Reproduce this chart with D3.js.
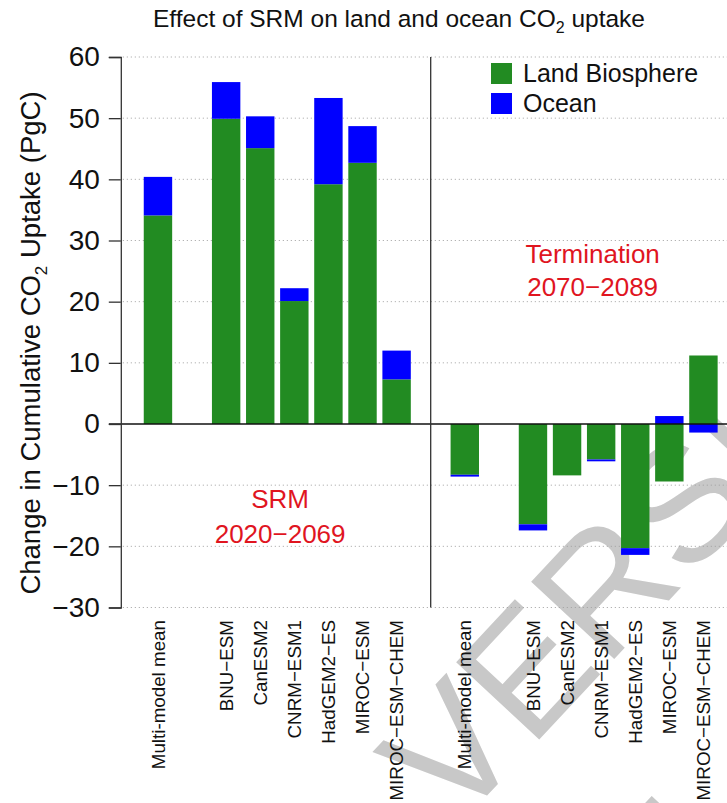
<!DOCTYPE html>
<html>
<head>
<meta charset="utf-8">
<script src="https://cdn.jsdelivr.net/npm/d3@7"></script>
<style>
  html, body { margin: 0; padding: 0; background: #fff; }
  svg { display: block; font-family: "Liberation Sans", Arial, Helvetica, sans-serif; }
</style>
</head>
<body>
<svg id="chart" width="727" height="803"></svg>
<script>
// ---- data ----
const categories = [
  "Multi-model mean", "", "BNU\u2212ESM", "CanESM2", "CNRM\u2212ESM1", "HadGEM2\u2212ES", "MIROC\u2212ESM", "MIROC\u2212ESM\u2212CHEM",
  "",
  "Multi-model mean", "", "BNU\u2212ESM", "CanESM2", "CNRM\u2212ESM1", "HadGEM2\u2212ES", "MIROC\u2212ESM", "MIROC\u2212ESM\u2212CHEM"
];
const landBiosphere = [34.1, 0, 49.9, 45.1, 20.1, 39.2, 42.7, 7.3, 0, -8.3, 0, -16.4, -8.4, -5.8, -20.3, -9.4, 11.2];
const ocean         = [ 6.3, 0,  6.0,  5.2,  2.1, 14.1,  6.0, 4.7, 0, -0.3, 0,  -1.0,  0.0, -0.3,  -1.1,  1.3, -1.4];
const yTicks = [-30, -20, -10, 0, 10, 20, 30, 40, 50, 60];
const seriesNames = ["Land Biosphere", "Ocean"];
const seriesColors = ["#228B22", "#0000FF"];
const title = "Effect of SRM on land and ocean CO";
const yLabel = ["Change in Cumulative CO", " Uptake (PgC)"];
const periodLabels = [
  {lines: ["SRM", "2020\u22122069"], x: 5.0, y: [-13.8, -19.5]},
  {lines: ["Termination", "2070\u22122089"], x: 16.0, y: [26.3, 21.0]}
];

// ---- layout ----
const svg = d3.select("#chart");
const W = 727, H = 803;
const space = 0.2, barW = 1;
const n = categories.length;
const xMin = space - 0.04 * (n * (barW + space) - space) ;
const xMax = n * (barW + space) + 0.04 * (n * (barW + space) - space);
const pxPerUnit = 28.41;
const x = d3.scaleLinear().domain([xMin, xMax]).range([120.8, 120.8 + (xMax - xMin) * pxPerUnit]);
const y = d3.scaleLinear().domain([-30, 60]).range([607.5, 57]);
const barLeft = i => space + i * (barW + space);

// ---- watermark (behind) ----
const wm = svg.append("g").attr("fill", "#c8c8c8").style("font-size", "165px");
const g1 = wm.append("g").attr("transform", "translate(455,830) rotate(-47)");
g1.append("text").attr("text-anchor", "start").text("VERSION");
g1.append("text").attr("text-anchor", "end").attr("x", -45).text("ACCEPTED");
const g2 = wm.append("g").attr("transform", "translate(640,975) rotate(-47)");
g2.append("text").attr("text-anchor", "start").text("AL EDITS");
g2.append("text").attr("text-anchor", "end").text("SUBJECT TO FIN");

// ---- grid ----
svg.append("g").selectAll("line").data(yTicks.filter(t => t !== 0)).join("line")
  .attr("x1", x(xMin) + 2).attr("x2", W)
  .attr("y1", d => y(d)).attr("y2", d => y(d))
  .attr("stroke", "#a0a0a0").attr("stroke-width", 1).attr("stroke-dasharray", "1,3");

// ---- bars ----
const rows = categories.map((c, i) => ({i, land: landBiosphere[i], ocean: ocean[i]}));
const stacked = d3.stack().keys(["land", "ocean"]).offset(d3.stackOffsetDiverging)(rows);
stacked.forEach((layer, k) => {
  svg.append("g").attr("fill", seriesColors[k]).selectAll("rect")
    .data(layer.filter(d => d[1] !== d[0])).join("rect")
    .attr("x", d => x(barLeft(d.data.i)))
    .attr("width", x(barW) - x(0))
    .attr("y", d => y(Math.max(d[0], d[1])))
    .attr("height", d => Math.abs(y(d[0]) - y(d[1])));
});

// ---- zero line ----
svg.append("line").attr("x1", x(xMin) - 12).attr("x2", W)
  .attr("y1", y(0)).attr("y2", y(0)).attr("stroke", "#111").attr("stroke-width", 1.3);

// ---- divider ----
const divX = x(barLeft(8) + barW / 2);
svg.append("line").attr("x1", divX).attr("x2", divX).attr("y1", y(60)).attr("y2", y(-30))
  .attr("stroke", "#333").attr("stroke-width", 1.3);

// ---- y axis ----
const yAxis = d3.axisLeft(y).tickValues(yTicks).tickSize(12).tickPadding(9)
  .tickFormat(d => d < 0 ? "\u2212" + Math.abs(d) : d);
const ya = svg.append("g").attr("transform", `translate(${x(xMin)},0)`).call(yAxis);
ya.select(".domain").attr("stroke", "#333").attr("stroke-width", 1.3);
ya.selectAll(".tick line").attr("stroke", "#333").attr("stroke-width", 1.3);
ya.selectAll(".tick text").attr("fill", "#111").style("font-size", "28px")
  .style("font-family", "'Liberation Sans', Arial, sans-serif");

// ---- x labels ----
svg.append("g").selectAll("text").data(categories.map((c, i) => ({c, i})).filter(d => d.c)).join("text")
  .attr("transform", d => `translate(${x(barLeft(d.i) + barW / 2)},620) rotate(-90)`)
  .attr("text-anchor", "end").attr("dy", "0.35em")
  .style("font-size", "18.8px").attr("fill", "#111")
  .text(d => d.c);

// ---- title ----
const t = svg.append("text").attr("x", 399).attr("y", 27).attr("text-anchor", "middle")
  .style("font-size", "24.5px").attr("fill", "#111");
t.append("tspan").text(title);
t.append("tspan").attr("dy", 6).style("font-size", "16px").text("2");
t.append("tspan").attr("dy", -6).text(" uptake");

// ---- y label ----
const yl = svg.append("text").attr("transform", "translate(40,343) rotate(-90)")
  .attr("text-anchor", "middle").style("font-size", "27.5px").attr("fill", "#111");
yl.append("tspan").text(yLabel[0]);
yl.append("tspan").attr("dy", 7).style("font-size", "17px").text("2");
yl.append("tspan").attr("dy", -7).text(yLabel[1]);

// ---- period labels ----
periodLabels.forEach(p => {
  p.lines.forEach((ln, j) => {
    svg.append("text").attr("x", x(p.x)).attr("y", y(p.y[j])).attr("text-anchor", "middle")
      .style("font-size", "26px").attr("fill", "#e0151f").text(ln);
  });
});

// ---- legend ----
const lg = svg.append("g").attr("transform", "translate(491,63)");
seriesNames.forEach((s, k) => {
  lg.append("rect").attr("x", 0).attr("y", k * 30).attr("width", 21).attr("height", 21).attr("fill", seriesColors[k]);
  lg.append("text").attr("x", 32).attr("y", k * 30 + 19).style("font-size", "25px").attr("fill", "#111").text(s);
});
</script>
</body>
</html>
